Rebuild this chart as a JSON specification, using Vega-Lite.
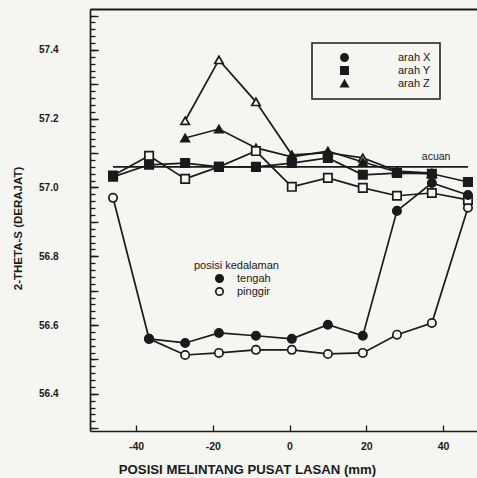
{
  "$schema": "https://vega.github.io/schema/vega-lite/v6.json",
  "width": 387,
  "height": 422,
  "autosize": {"type": "none"},
  "padding": {"left": 90, "top": 9, "right": 0, "bottom": 47},
  "background": "#f5f5f2",
  "config": {
    "font": "Liberation Sans",
    "view": {"stroke": null},
    "legend": {"strokeWidth": 1.5},
    "axis": {"domainColor": "#1a1a1a", "tickColor": "#1a1a1a", "labelColor": "#1a1a1a", "titleColor": "#1a1a1a", "domainWidth": 1.7, "tickWidth": 1.3, "grid": false}
  },
  "datasets": {
    "series": [
      {"x": -27.2, "y": 57.194, "arah": "arah Z", "posisi": "pinggir"},
      {"x": -18.4, "y": 57.371, "arah": "arah Z", "posisi": "pinggir"},
      {"x": -8.75, "y": 57.249, "arah": "arah Z", "posisi": "pinggir"},
      {"x": 0.6, "y": 57.095, "arah": "arah Z", "posisi": "pinggir"},
      {"x": 10, "y": 57.101, "arah": "arah Z", "posisi": "pinggir"},
      {"x": 19.1, "y": 57.086, "arah": "arah Z", "posisi": "pinggir"},
      {"x": 28, "y": 57.048, "arah": "arah Z", "posisi": "pinggir"},
      {"x": 37.1, "y": 57.042, "arah": "arah Z", "posisi": "pinggir"},
      {"x": -27.2, "y": 57.144, "arah": "arah Z", "posisi": "tengah"},
      {"x": -18.4, "y": 57.17, "arah": "arah Z", "posisi": "tengah"},
      {"x": -8.75, "y": 57.115, "arah": "arah Z", "posisi": "tengah"},
      {"x": 0.6, "y": 57.089, "arah": "arah Z", "posisi": "tengah"},
      {"x": 10, "y": 57.106, "arah": "arah Z", "posisi": "tengah"},
      {"x": 19.1, "y": 57.074, "arah": "arah Z", "posisi": "tengah"},
      {"x": 28, "y": 57.045, "arah": "arah Z", "posisi": "tengah"},
      {"x": 37.1, "y": 57.04, "arah": "arah Z", "posisi": "tengah"},
      {"x": -46, "y": 56.97, "arah": "arah X", "posisi": "pinggir"},
      {"x": -36.6, "y": 56.56, "arah": "arah X", "posisi": "pinggir"},
      {"x": -27.2, "y": 56.513, "arah": "arah X", "posisi": "pinggir"},
      {"x": -18.4, "y": 56.519, "arah": "arah X", "posisi": "pinggir"},
      {"x": -8.75, "y": 56.528, "arah": "arah X", "posisi": "pinggir"},
      {"x": 0.6, "y": 56.528, "arah": "arah X", "posisi": "pinggir"},
      {"x": 10, "y": 56.516, "arah": "arah X", "posisi": "pinggir"},
      {"x": 19.1, "y": 56.519, "arah": "arah X", "posisi": "pinggir"},
      {"x": 28, "y": 56.572, "arah": "arah X", "posisi": "pinggir"},
      {"x": 37.1, "y": 56.606, "arah": "arah X", "posisi": "pinggir"},
      {"x": 46.5, "y": 56.941, "arah": "arah X", "posisi": "pinggir"},
      {"x": -46, "y": 57.035, "arah": "arah Y", "posisi": "pinggir"},
      {"x": -36.6, "y": 57.092, "arah": "arah Y", "posisi": "pinggir"},
      {"x": -27.2, "y": 57.025, "arah": "arah Y", "posisi": "pinggir"},
      {"x": -18.4, "y": 57.06, "arah": "arah Y", "posisi": "pinggir"},
      {"x": -8.75, "y": 57.106, "arah": "arah Y", "posisi": "pinggir"},
      {"x": 0.6, "y": 57.002, "arah": "arah Y", "posisi": "pinggir"},
      {"x": 10, "y": 57.028, "arah": "arah Y", "posisi": "pinggir"},
      {"x": 19.1, "y": 56.999, "arah": "arah Y", "posisi": "pinggir"},
      {"x": 28, "y": 56.976, "arah": "arah Y", "posisi": "pinggir"},
      {"x": 37.1, "y": 56.984, "arah": "arah Y", "posisi": "pinggir"},
      {"x": 46.5, "y": 56.964, "arah": "arah Y", "posisi": "pinggir"},
      {"x": -36.6, "y": 56.56, "arah": "arah X", "posisi": "tengah"},
      {"x": -27.2, "y": 56.548, "arah": "arah X", "posisi": "tengah"},
      {"x": -18.4, "y": 56.577, "arah": "arah X", "posisi": "tengah"},
      {"x": -8.75, "y": 56.569, "arah": "arah X", "posisi": "tengah"},
      {"x": 0.6, "y": 56.56, "arah": "arah X", "posisi": "tengah"},
      {"x": 10, "y": 56.601, "arah": "arah X", "posisi": "tengah"},
      {"x": 19.1, "y": 56.569, "arah": "arah X", "posisi": "tengah"},
      {"x": 28, "y": 56.932, "arah": "arah X", "posisi": "tengah"},
      {"x": 37.1, "y": 57.013, "arah": "arah X", "posisi": "tengah"},
      {"x": 46.5, "y": 56.978, "arah": "arah X", "posisi": "tengah"},
      {"x": -46, "y": 57.031, "arah": "arah Y", "posisi": "tengah"},
      {"x": -36.6, "y": 57.066, "arah": "arah Y", "posisi": "tengah"},
      {"x": -27.2, "y": 57.071, "arah": "arah Y", "posisi": "tengah"},
      {"x": -18.4, "y": 57.06, "arah": "arah Y", "posisi": "tengah"},
      {"x": -8.75, "y": 57.06, "arah": "arah Y", "posisi": "tengah"},
      {"x": 0.6, "y": 57.071, "arah": "arah Y", "posisi": "tengah"},
      {"x": 10, "y": 57.086, "arah": "arah Y", "posisi": "tengah"},
      {"x": 19.1, "y": 57.037, "arah": "arah Y", "posisi": "tengah"},
      {"x": 28, "y": 57.042, "arah": "arah Y", "posisi": "tengah"},
      {"x": 37.1, "y": 57.04, "arah": "arah Y", "posisi": "tengah"},
      {"x": 46.5, "y": 57.016, "arah": "arah Y", "posisi": "tengah"}
    ],
    "acuan": [
      {"x": -46, "y": 57.06, "label": "acuan"},
      {"x": 46.5, "y": 57.06, "label": "acuan"}
    ],
    "acuanText": [
      {"x": 38.2, "y": 57.09, "label": "acuan"}
    ]
  },
  "resolve": {"axis": {"x": "independent", "y": "independent"}},
  "layer": [
    {
      "data": {"name": "acuan"},
      "mark": {"type": "line", "color": "#1a1a1a", "strokeWidth": 1.6},
      "encoding": {
        "x": {"field": "x", "type": "quantitative", "scale": {"domain": [-52, 48.86], "nice": false, "zero": false},
          "axis": {"orient": "top", "ticks": false, "labels": false, "title": null, "domainWidth": 2}},
        "y": {"field": "y", "type": "quantitative", "scale": {"domain": [56.292, 57.519], "nice": false, "zero": false},
          "axis": {"orient": "left", "values": [56.3,56.32,56.34,56.36,56.38,56.4,56.42,56.44,56.46,56.48,56.5,56.52,56.54,56.56,56.58,56.6,56.62,56.64,56.66,56.68,56.7,56.72,56.74,56.76,56.78,56.8,56.82,56.84,56.86,56.88,56.9,56.92,56.94,56.96,56.98,57.0,57.02,57.04,57.06,57.08,57.1,57.12,57.14,57.16,57.18,57.2,57.22,57.24,57.26,57.28,57.3,57.32,57.34,57.36,57.38,57.4,57.42,57.44,57.46,57.48,57.5], "tickSize": -5, "labels": false, "domain": false, "title": null}}
      }
    },
    {
      "data": {"name": "series"},
      "mark": {"type": "line", "color": "#1a1a1a", "strokeWidth": 1.7},
      "encoding": {
        "x": {"field": "x", "type": "quantitative", "axis": null},
        "y": {"field": "y", "type": "quantitative",
          "axis": {"orient": "left", "values": [56.3,56.4,56.5,56.6,56.7,56.8,56.9,57.0,57.1,57.2,57.3,57.4,57.5], "tickSize": -8, "labels": false, "domain": false, "title": null}},
        "detail": [{"field": "arah"}, {"field": "posisi"}]
      }
    },
    {
      "data": {"name": "series"},
      "mark": {"type": "point", "filled": true, "stroke": "#1a1a1a", "strokeWidth": 1.7, "size": 70, "opacity": 1},
      "encoding": {
        "x": {"field": "x", "type": "quantitative",
          "axis": {"orient": "bottom", "values": [-40, -20, 0, 20, 40], "tickSize": -6, "labelFontSize": 10.5, "labelFontWeight": "bold", "labelPadding": 16,
            "labelExpr": "(datum.value < 0 ? '-' : '') + abs(datum.value)",
            "title": "POSISI MELINTANG PUSAT LASAN (mm)", "titleFontSize": 13.2, "titleFontWeight": "bold", "titleX": 157, "titleY": 38, "titleAnchor": "middle", "titleBaseline": "middle"}},
        "y": {"field": "y", "type": "quantitative",
          "axis": {"orient": "left", "values": [56.4, 56.6, 56.8, 57.0, 57.2, 57.4], "format": ".1f", "tickSize": -8, "labelFontSize": 10, "labelFontWeight": "bold", "labelPadding": 40,
            "title": "2-THETA-S (DERAJAT)", "titleFontSize": 11.5, "titleFontWeight": "bold", "titleX": -72, "titleY": 219, "titleAngle": -90, "titleAlign": "center", "titleBaseline": "middle"}},
        "shape": {"field": "arah", "type": "nominal",
          "scale": {"domain": ["arah X", "arah Y", "arah Z"], "range": ["circle", "square", "triangle-up"]},
          "legend": {"orient": "none", "legendX": 222, "legendY": 34, "title": null, "strokeColor": "#1a1a1a", "padding": 9, "labelFontSize": 11, "labelColor": "#1a1a1a", "symbolOffset": 18, "labelOffset": 48, "symbolSize": 55, "symbolFillColor": "#1a1a1a", "symbolStrokeColor": "#1a1a1a", "rowPadding": -2,
            "labelExpr": "datum.label + '\u00a0\u00a0\u00a0\u00a0'"}},
        "fill": {"field": "posisi", "type": "nominal",
          "scale": {"domain": ["tengah", "pinggir"], "range": ["#1a1a1a", "#f5f5f2"]},
          "legend": {"orient": "none", "legendX": 104, "legendY": 251, "title": "posisi kedalaman", "titleFontSize": 11, "titleFontWeight": "normal", "titleColor": "#1a1a1a", "labelFontSize": 11, "labelColor": "#1a1a1a", "symbolType": "circle", "symbolStrokeColor": "#1a1a1a", "symbolStrokeWidth": 1.7, "symbolSize": 55, "symbolOffset": 20, "labelOffset": 12, "titlePadding": 2, "rowPadding": -2}}
      }
    },
    {
      "data": {"name": "acuanText"},
      "mark": {"type": "text", "fontSize": 10.5, "color": "#1a1a1a"},
      "encoding": {
        "x": {"field": "x", "type": "quantitative", "axis": null},
        "y": {"field": "y", "type": "quantitative", "axis": null},
        "text": {"field": "label"}
      }
    }
  ]
}
